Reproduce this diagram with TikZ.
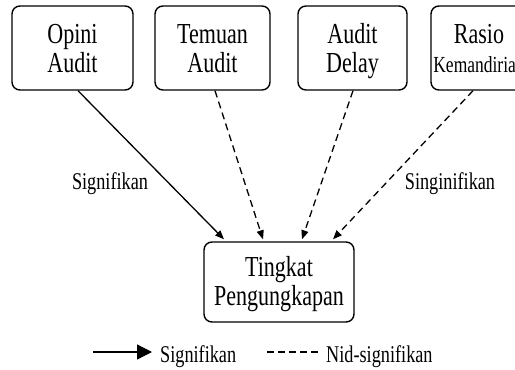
\documentclass[tikz,border=0pt]{standalone}
\usepackage{fontspec}
\setmainfont{Liberation Serif}[FakeStretch=0.76]
\usetikzlibrary{arrows.meta,calc}
\newcommand\tops{\rule{0pt}{26pt}}
\newcommand\bots{\rule[-6.5pt]{0pt}{6.5pt}}
\tikzset{
  box/.style={draw, rounded corners=8pt, line width=1.4pt, align=center, inner sep=0pt,
    font=\fontsize{29}{29}\selectfont},
  lbl/.style={inner sep=0pt, font=\fontsize{24}{24}\selectfont},
  sig/.style={line width=1.3pt, -{Triangle[length=9pt,width=7pt]}},
  nsig/.style={line width=1.3pt, dash pattern=on 7pt off 4.5pt, -{Triangle[length=9pt,width=7pt]}},
}
\begin{document}
\begin{tikzpicture}[x=1pt,y=-1pt]
\useasboundingbox (0,0) rectangle (515,370);
\clip (0,0) rectangle (515,370);
\node[box, minimum width=121pt, minimum height=84pt] (op) at (72.5,48) {\tops Opini\\Audit\bots};
\node[box, minimum width=115pt, minimum height=84pt] (tm) at (212.5,48) {\tops Temuan\\Audit\bots};
\node[box, minimum width=109pt, minimum height=84pt] (ad) at (352.5,48) {\tops Audit\\Delay\bots};
\node[box, minimum width=96pt, minimum height=84pt] (rk) at (479,48) {\tops Rasio\\{\fontsize{23}{29}\selectfont Kemandirian}\bots};
\node[box, minimum width=150pt, minimum height=80pt] (tp) at (279,282) {\rule{0pt}{25pt}Tingkat\\Pengungkapan\bots};
\draw[sig] ([xshift=5.5pt]op.south) -- ([xshift=-55pt,yshift=2pt]tp.north);
\draw[nsig] ([xshift=2.5pt]tm.south) -- ([xshift=-16pt,yshift=2pt]tp.north);
\draw[nsig] ([xshift=0.5pt]ad.south) -- ([xshift=23pt,yshift=2pt]tp.north);
\draw[nsig] ([xshift=-6pt]rk.south) -- ([xshift=54pt,yshift=2pt]tp.north);
\node[lbl, anchor=base] (l1) at (110,189) {Signifikan};
\node[lbl, anchor=base] (l2) at (450,189) {Singinifikan};
\coordinate (a1) at (93,352);
\coordinate (a2) at (152,352);
\draw[line width=1.3pt, -{Triangle[length=15pt,width=15pt]}] (a1) -- (a2);
\node[lbl, anchor=base west] (ls) at (160,362) {Signifikan};
\coordinate (b1) at (267,352);
\coordinate (b2) at (321,352);
\draw[line width=1.3pt, dash pattern=on 7pt off 4pt] (b1) -- (b2);
\node[lbl, anchor=base west] (ln) at (326,362) {Nid-signifikan};
\end{tikzpicture}
\end{document}
